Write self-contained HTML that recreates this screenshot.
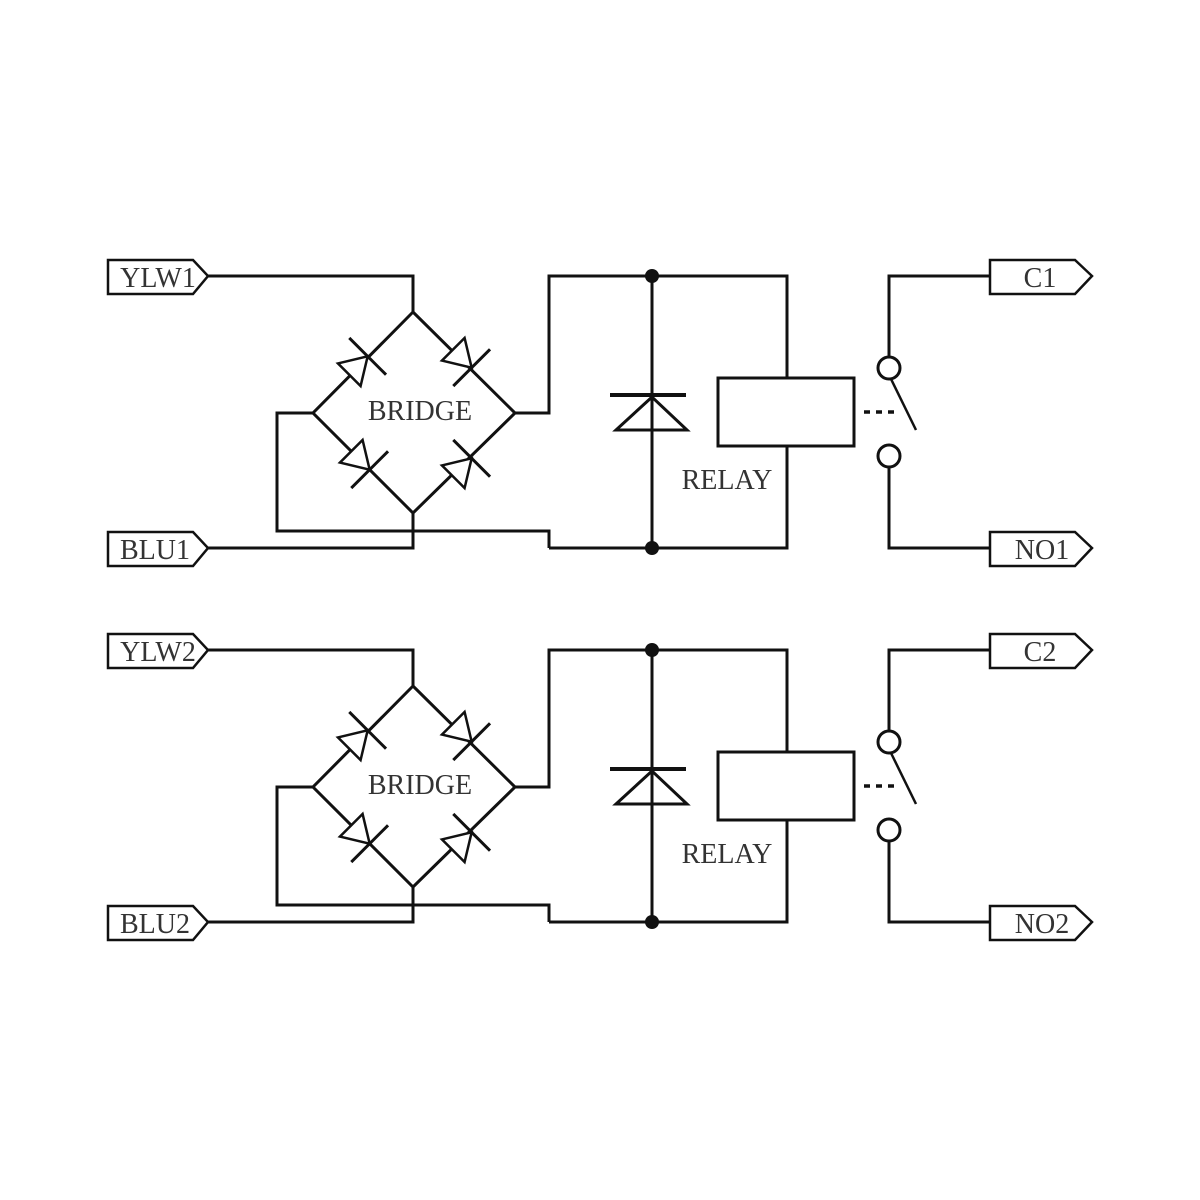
<!DOCTYPE html>
<html><head><style>body{margin:0;background:#fff}svg{display:block}</style></head><body>
<svg width="1200" height="1200" viewBox="0 0 1200 1200" xmlns="http://www.w3.org/2000/svg">
<defs>
<g id="c" fill="none" stroke="#111" stroke-width="3">
  <path d="M108 260 H193 L208 276 L193 294 H108 Z" stroke-width="2.5"/>
  <path d="M108 532 H193 L208 548 L193 566 H108 Z" stroke-width="2.5"/>
  <path d="M208 276 H413 V312"/>
  <path d="M208 548 H413 V513"/>
  <path d="M313 413 H277 V531 H549 V548"/>
  <path d="M515 413 H549 V276 H787 V378"/>
  <path d="M549 548 H787 V446"/>
  <path d="M413 312 L313 413 L413 513 L515 413 Z"/>
  <rect x="718" y="378" width="136" height="68"/>
  <path d="M652 276 V548"/>
  <path d="M610 395 H686" stroke-width="4"/>
  <path d="M652 397 L616 430 H687 Z"/>
  <path d="M889 357 V276 H990"/>
  <circle cx="889" cy="368" r="11"/>
  <circle cx="889" cy="456" r="11"/>
  <path d="M889 467 V548 H990"/>
  <path d="M891 379 L916 430" stroke-width="2.5"/>
  <path d="M864 412 H900" stroke-dasharray="6 6" stroke-width="3.5"/>
  <path d="M990 260 H1075 L1092 276 L1075 294 H990 Z" stroke-width="2.5"/>
  <path d="M990 532 H1075 L1092 548 L1075 566 H990 Z" stroke-width="2.5"/>
</g>
<g id="d" fill="#fff" stroke="#111" stroke-width="3">
  <path d="M-18 -16 L8 0 L-18 16 Z" stroke-width="2.5"/>
  <path d="M8 -26 V26" fill="none"/>
</g>
</defs>
<g>
<use href="#c"/>
<use href="#d" transform="translate(362 362) rotate(-45)"/>
<use href="#d" transform="translate(466 362) rotate(45)"/>
<use href="#d" transform="translate(364 464) rotate(45)"/>
<use href="#d" transform="translate(466 464) rotate(-45)"/>
<circle cx="652" cy="276" r="7" fill="#111"/>
<circle cx="652" cy="548" r="7" fill="#111"/>
</g>
<g transform="translate(0 374)">
<use href="#c"/>
<use href="#d" transform="translate(362 362) rotate(-45)"/>
<use href="#d" transform="translate(466 362) rotate(45)"/>
<use href="#d" transform="translate(364 464) rotate(45)"/>
<use href="#d" transform="translate(466 464) rotate(-45)"/>
<circle cx="652" cy="276" r="7" fill="#111"/>
<circle cx="652" cy="548" r="7" fill="#111"/>
</g>
<g font-family="Liberation Serif, serif" font-size="28" fill="#333" text-anchor="middle">
<text x="158" y="287">YLW1</text>
<text x="155" y="559">BLU1</text>
<text x="420" y="420">BRIDGE</text>
<text x="727" y="489">RELAY</text>
<text x="1040" y="287">C1</text>
<text x="1042" y="559">NO1</text>
<text x="158" y="661">YLW2</text>
<text x="155" y="933">BLU2</text>
<text x="420" y="794">BRIDGE</text>
<text x="727" y="863">RELAY</text>
<text x="1040" y="661">C2</text>
<text x="1042" y="933">NO2</text>
</g>
</svg>
</body></html>
